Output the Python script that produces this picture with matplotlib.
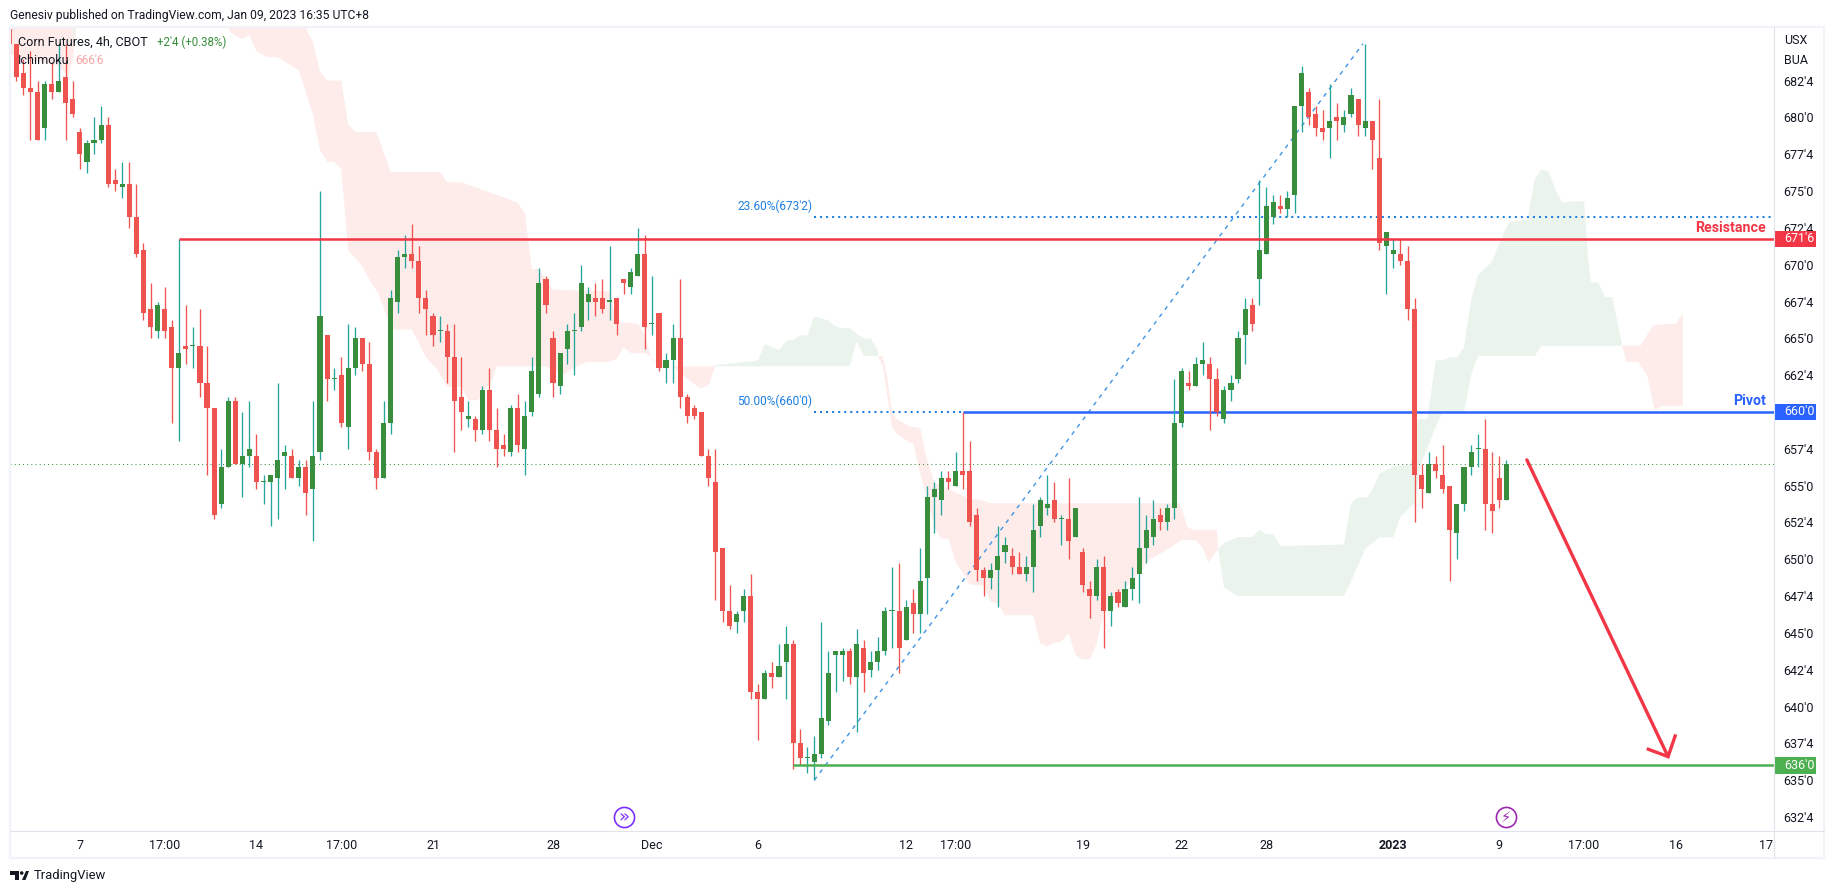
import matplotlib
matplotlib.use('Agg')
import matplotlib.pyplot as plt
import matplotlib.patches as patches
from matplotlib.lines import Line2D
from matplotlib.transforms import blended_transform_factory

W, H = 1834, 893
plt.rcParams['font.family'] = ['Roboto', 'DejaVu Sans']

# 4h bars, index 0 is the one cut by the left edge
opens = [686, 685, 683, 682, 681.75, 679.25, 682.25, 681.75, 682.75, 681.25,
         679, 677, 678.25, 678.5, 679.5, 675.75, 675.25, 675.5, 673.25, 671,
         667, 665.5, 667, 665.75, 663, 664.5, 664.5, 664.5, 662, 660.25,
         653.75, 656.25, 660.75, 656.5, 657, 657, 655.25, 655.25, 655.5, 657,
         657, 655.5, 656.25, 654.75, 657.25, 665.25, 662.25, 662.5, 659, 663,
         665, 663.25, 657.25, 655.5, 659.25, 667.5, 670.5, 670.75, 670.25, 667.75,
         666.5, 665.5, 665.5, 663.75, 661, 659.5, 659.5, 658.75, 661.5, 658.75,
         657.75, 657.25, 660.25, 657.5, 660, 661.25, 669, 665, 661.75, 664.25,
         665.5, 665.75, 667.5, 667.75, 667.75, 667.5, 667.75, 669, 668.5, 669.25,
         670.75, 666, 666.75, 663, 663.5, 665, 661, 660.25, 660, 657,
         655.25, 650.75, 646.5, 645.75, 646.5, 647.5, 641, 640.5, 642.25, 642,
         643, 644.25, 637.5, 636.5, 636.25, 636.75, 639, 643.5, 643.5, 643.75,
         642, 644, 642.5, 643, 643.75, 646.5, 646.5, 644.5, 647, 646.25,
         648.75, 654.25, 654, 655.5, 655, 656, 656, 653, 649.25, 648.75,
         649.25, 650.5, 650.25, 649.5, 649, 649.5, 652.25, 653.5, 654, 652.75,
         652.75, 651.5, 650.5, 648, 647.5, 649.5, 646.5, 647.75, 646.75, 648,
         649, 650.75, 651.5, 653, 652.5, 653.5, 659.25, 662, 661.75, 663.25,
         663.25, 662.25, 659.5, 661.5, 662.25, 665.25, 667.25, 669, 670.75, 673.25,
         674, 673.75, 674.75, 680.75, 681.75, 680.25, 679.25, 679.25, 680, 679.5,
         680.25, 681.25, 679.25, 679.75, 677.25, 671.25, 670.75, 670.75, 670.25, 667,
         655.75, 654.5, 656.5, 655.75, 655, 651.75, 653.75, 656.25, 657.5, 657.5,
         653.75, 655.5, 654]
highs = [686, 685, 684, 684.5, 682.5, 682.5, 683.75, 685, 685, 682.5,
         679.25, 678.5, 680, 680.75, 680, 676.5, 677, 677, 675.5, 671.5,
         668.75, 667.5, 668.5, 666.25, 671.75, 667.25, 665.75, 667, 664.5, 660.25,
         657.5, 661, 661, 660, 660.75, 658.5, 655.75, 655.75, 662, 657.75,
         657.5, 656.75, 656.75, 660.75, 675, 665.25, 663, 663.75, 666, 665.75,
         665, 664.75, 657.5, 660.75, 668.25, 671, 672, 672.75, 671.25, 668.25,
         666.75, 666.5, 666, 666, 663.75, 660.75, 659.75, 661.75, 663, 660.25,
         658.5, 660.5, 661.25, 660.75, 663.75, 669.75, 669.25, 665.5, 664, 666,
         666.75, 670, 668.5, 668.75, 669, 671.25, 667.75, 669, 669.75, 672.5,
         672, 669.25, 666.75, 664, 666, 669, 661.25, 660.5, 660, 657.5,
         657.5, 650.75, 648.25, 646.5, 648, 649, 641.5, 642.5, 643, 644.25,
         645.5, 644.5, 638.5, 637.25, 638, 645.75, 643.75, 643.75, 644, 644,
         645.25, 644.5, 643.75, 644.75, 646.75, 649.5, 649.75, 647.25, 648, 650.75,
         655, 655.25, 656, 656, 657.25, 660, 658, 653.5, 649.5, 649.75,
         652.25, 651.5, 650.75, 650.5, 650.25, 653.75, 654.25, 655.75, 655.25, 653,
         655.5, 653.5, 650.75, 648.5, 650, 650.25, 647.75, 648, 648.5, 649.5,
         654.25, 653, 654, 653.5, 653.75, 662.25, 663, 662.75, 663.75, 664.75,
         663.75, 663, 661.75, 662.5, 665.5, 667.75, 667.75, 675.75, 675.25, 674.75,
         674.75, 675, 680.75, 683.5, 682, 680.75, 680.5, 682.25, 681, 680.5,
         682, 681.25, 685, 679.75, 681.25, 672.25, 671.75, 671.75, 671.25, 667.75,
         656.5, 657.25, 657, 657.75, 655, 653.75, 656.25, 657.75, 658.5, 659.5,
         657.25, 657, 656.75]
lows = [685, 682.5, 681.5, 678.5, 678.5, 678.5, 681.25, 681.75, 678.5, 680,
        676.5, 676.25, 677.5, 678.25, 675.25, 675, 674.5, 672.5, 670.5, 666.25,
        665, 665, 665, 659.25, 658, 663.25, 663, 661, 655.75, 652.75,
        653.5, 656.25, 656.5, 654.25, 656.25, 654.75, 653.75, 652.25, 652.75, 654.75,
        655.5, 655, 653, 651.25, 656.75, 660.75, 661.5, 659, 657.5, 662.5,
        662.75, 656.75, 654.75, 655.5, 658.5, 666.75, 669.75, 669.75, 666.75, 665.25,
        664.5, 664.75, 662, 657.25, 658.75, 659, 658, 658.5, 658, 656.25,
        657, 657, 657.25, 655.75, 659.75, 661, 666.75, 661, 661.25, 663.25,
        662.5, 665.5, 666.25, 666.5, 666.75, 666.25, 665.25, 668, 668, 669.25,
        664.25, 665.25, 662.75, 662, 662, 660.25, 659.25, 659.5, 657, 655,
        647.25, 645.75, 645.25, 645, 645.75, 640.5, 637.75, 640.5, 641.25, 642,
        640.5, 635.75, 636, 635.5, 635, 636.5, 638.75, 641, 641.75, 641.5,
        638.25, 641, 642, 642.5, 643.5, 644, 642.25, 644.5, 645, 645,
        646.25, 651.75, 653, 654.75, 655, 654.75, 652.25, 648.5, 647.5, 648,
        646.75, 649.75, 649, 649, 648.5, 647.75, 651.5, 653, 652.5, 651,
        650, 651.5, 647.75, 646, 647.25, 644, 645.5, 646.75, 646.75, 647.25,
        647, 649.75, 651, 652, 652, 652.75, 659, 661.5, 661.75, 662.5,
        658.75, 659.75, 659.25, 660.75, 662, 663.25, 665.5, 667.25, 670.75, 672.75,
        673.5, 673.25, 673.5, 679, 679.5, 678.75, 678.5, 677.25, 678.5, 679,
        680, 678.75, 678.75, 676.5, 671, 668, 669.75, 670, 666.25, 652.5,
        653.5, 654.5, 655.5, 654.5, 648.5, 650, 653.25, 655.75, 656.25, 652,
        651.75, 653.5, 654]
closes = [685, 682.75, 682, 681.75, 678.5, 682.25, 681.75, 682.5, 681, 680.25,
          677.5, 678.25, 678.5, 679.5, 675.5, 675.5, 675.5, 673.25, 670.75, 666.75,
          665.75, 667.25, 665.5, 663, 664, 664.25, 664.5, 662, 660.25, 653,
          656.25, 660.75, 656.5, 657, 657.5, 655.25, 655.25, 655.75, 656.75, 657.25,
          655.5, 656.25, 654.5, 657, 666.5, 662.25, 662.25, 659.25, 663, 665,
          663.25, 657.25, 655.5, 659.25, 667.75, 670.5, 670.75, 670.25, 667.75, 667,
          665.25, 665.5, 663.75, 660.75, 660, 659.75, 658.75, 661.5, 658.75, 657.5,
          657.5, 660.25, 657.75, 659.75, 662.75, 668.75, 667.25, 662, 664, 665.5,
          665.5, 668.75, 668, 667.5, 667, 667.5, 666, 668.75, 669.5, 670.75,
          665.75, 666, 663, 663.5, 665, 661, 659.75, 659.75, 657, 655.5,
          650.5, 646.5, 645.5, 646.25, 647.5, 641, 640.5, 642.25, 642, 642.75,
          644.25, 637.5, 636.5, 636.5, 636.75, 639.25, 642.25, 643.75, 643.75, 642,
          644.25, 642.25, 643, 643.75, 646.5, 646.5, 644, 646.75, 646.25, 648.5,
          654.25, 654.75, 655.5, 655.25, 656, 655.75, 652.5, 649.25, 648.75, 649.25,
          650.25, 651, 649.5, 649, 649.5, 652, 654, 653.75, 652.75, 652.75,
          651.25, 653.5, 648.25, 647.5, 649.5, 646.5, 647.5, 647, 648, 648.75,
          650.75, 652, 652.75, 652.5, 653.5, 659.25, 662.75, 661.75, 663.25, 663.5,
          662.25, 660, 661.5, 662, 665, 667, 666, 671, 674, 674.25,
          673.75, 674.5, 680.75, 683, 680, 679.25, 679, 679.75, 679.75, 680,
          681.5, 679.5, 679.75, 678.5, 671.5, 672.25, 671, 670.25, 667, 655.75,
          654.75, 656.5, 656, 654.75, 652, 653.75, 656.25, 657.25, 657.5, 653.75,
          653.25, 654, 656.5]

# ichimoku cloud edges, bar index and price
red_left_up_x = [0, 9.5]
red_left_up_p = [686.2, 686.2]
red_left_lo_x = [0, 3, 7, 8.3, 9, 9.5]
red_left_lo_p = [684.3, 683.9, 683.5, 682.8, 683.9, 686.2]
green_tip_up_x = [9, 9.5]
green_tip_up_p = [686.2, 686.2]
green_tip_lo_x = [9, 9.5]
green_tip_lo_p = [685, 686.2]

red_main_up_x = [42, 43, 44, 45, 47, 48, 49, 52, 54, 61, 62, 64, 71, 72, 73, 74, 75, 77, 85, 86, 89, 90, 91, 94, 100]
red_main_up_p = [686.1, 685.1, 683.1, 682.5, 682.5, 679.5, 679, 679, 676.3, 676.3, 675.6, 675.6, 674.4, 674.2, 673.5,
                 669.7, 669.7, 668.3, 668.2, 666.1, 666, 665.2, 663.5, 663.1, 663.1]
red_main_lo_x = [31, 31.3, 33, 34, 35, 36.5, 38, 40, 41, 43, 44, 45, 46, 47, 48, 48.7, 50, 51, 52.2, 53.6, 54.3, 57, 58,
                 59, 60.6, 62, 64, 65, 66.4, 68.4, 69, 76, 78.4, 80, 81.8, 84.8, 86, 87, 88, 90, 90.7, 92, 94, 95.4, 97.8, 99, 100]
red_main_lo_p = [686.2, 685.8, 685.3, 685.6, 684.5, 684.1, 684.1, 683.5, 683.2, 680.2, 677.8, 677, 677, 676.5, 671, 670.6,
                 669.9, 669, 668.1, 666.3, 665.6, 665.6, 664.7, 663.7, 662.9, 661.7, 661.7, 660.8, 660.8, 662.2, 663.1,
                 663.1, 662.5, 663, 663.4, 663.4, 663.6, 664.4, 664, 664, 663.8, 663.1, 663.1, 662.5, 661.6, 661.8, 663.1]

green_a_up_x = [100, 102.5, 106, 107, 108, 109, 110, 111, 112, 113, 114, 116, 116.7, 117.6, 119, 120, 121, 122, 123, 123]
green_a_up_p = [663.2, 663.3, 663.5, 664.6, 664.4, 664.2, 664.8, 664.9, 665.2, 665.2, 666.5, 666.2, 665.9, 665.7, 665.7,
                665.3, 665, 665, 664.2, 663.8]
green_a_lo_x = [100, 119, 120, 121, 123]
green_a_lo_p = [663.1, 663.1, 664.8, 663.8, 663.8]

red_b_up_x = [123, 123.7, 124.3, 125, 125.7, 127.6, 129, 129.7, 131, 136, 137.8, 139, 165.8, 166.8, 167.6, 171, 171.2]
red_b_up_p = [663.8, 663.8, 662.4, 660, 659.5, 659, 658.9, 657.2, 655.2, 654.1, 654, 653.8, 653.8, 652.2, 652, 652, 650.7]
red_b_lo_x = [123, 123.7, 125, 125.7, 127.6, 128, 128.7, 129.7, 131.2, 132, 133, 134, 135, 136, 138, 139, 140, 141, 145,
              146, 147, 148, 149, 150, 151, 152, 153, 154, 155, 159, 161.5, 163.4, 166, 168, 169, 169.8, 171.2]
red_b_lo_p = [663.8, 663.1, 659, 658.5, 657.9, 657.9, 656.4, 654.5, 652, 651.4, 651.4, 649.8, 649.1, 648.3, 648.2, 647.1,
              647, 646.2, 646.2, 644.3, 644.1, 644.3, 644.4, 645, 643.5, 643.2, 643.2, 644.3, 646.4, 648.6, 650, 650.5,
              651.3, 651.3, 650.8, 649.8, 650.7]

green_c_up_x = [171.2, 172, 174, 176, 177, 178, 179, 180, 189, 190, 191, 192.3, 193, 194, 196, 198.4, 199.5, 200.8, 202,
                203, 204, 205, 206, 207, 208, 210, 211, 212.4, 215, 216, 217, 218, 219, 220, 221.3, 223, 223.4, 223.5,
                224, 225, 226, 227, 228.4]
green_c_up_p = [650.7, 651.1, 651.5, 651.5, 652, 651.7, 651.7, 650.9, 651, 653.8, 654.2, 654.2, 654.7, 655.8, 656.3, 656.4,
                659.5, 659.5, 663.5, 663.5, 663.7, 663.7, 664.4, 667.6, 669.3, 670.2, 671.5, 672.9, 673.1, 675.8, 676.5,
                676.3, 675, 674.2, 674.3, 674.3, 671.7, 670.8, 668.8, 668.8, 667.8, 667.8, 664.5]
green_c_lo_x = [171.2, 172, 174, 189, 190, 192, 194, 196, 197, 199, 200, 202, 203, 206, 207, 208, 216, 217, 228, 228.4]
green_c_lo_p = [650.7, 648.1, 647.5, 647.5, 648.5, 650.7, 651.5, 651.5, 652.9, 653.8, 656.6, 659, 660, 660, 662.5, 663.8,
                663.8, 664.5, 664.5, 664.5]

red_d_up_x = [228.4, 231, 232.8, 236, 237]
red_d_up_p = [664.5, 664.5, 665.9, 666, 666.7]
red_d_lo_x = [228.4, 229, 230.7, 232, 233, 234, 237]
red_d_lo_p = [664.5, 663.4, 663.4, 662.4, 660.1, 660.4, 660.4]

clouds_red = [(red_left_up_x, red_left_up_p, red_left_lo_x, red_left_lo_p),
              (red_main_up_x, red_main_up_p, red_main_lo_x, red_main_lo_p),
              (red_b_up_x, red_b_up_p, red_b_lo_x, red_b_lo_p),
              (red_d_up_x, red_d_up_p, red_d_lo_x, red_d_lo_p)]
clouds_green = [(green_tip_up_x, green_tip_up_p, green_tip_lo_x, green_tip_lo_p),
                (green_a_up_x, green_a_up_p, green_a_lo_x, green_a_lo_p),
                (green_c_up_x, green_c_up_p, green_c_lo_x, green_c_lo_p)]

# axes labels
price_ticks = [632.5, 635, 637.5, 640, 642.5, 645, 647.5, 650, 652.5, 655, 657.5, 660, 662.5, 665, 667.5, 670, 672.5,
               675, 677.5, 680, 682.5]
price_labels = ["632'4", "635'0", "637'4", "640'0", "642'4", "645'0", "647'4", "650'0", "652'4", "655'0", "657'4",
                "660'0", "662'4", "665'0", "667'4", "670'0", "672'4", "675'0", "677'4", "680'0", "682'4"]
time_ticks = [10, 22, 35, 47, 60, 77, 91, 106, 127, 134, 152, 166, 178, 196, 211, 223, 236, 249]
time_labels = ['7', '17:00', '14', '17:00', '21', '28', 'Dec', '6', '12', '17:00', '19', '22', '28', '2023', '9',
               '17:00', '16', '17:']

# drawings
resistance = 671.75
pivot = 660
support = 636
last_price = 656.5
fib_236 = 673.25
fib_500 = 660
trend_x = [114, 191.7]
trend_p = [635, 685]
arrow_x = [214.9, 234.9]
arrow_p = [656.75, 636.6]
wing_x = [232.1, 234.9, 235.9]
wing_p = [637.1, 636.6, 638]

UP = '#388e3c'
UP_WICK = '#26a69a'
DOWN = '#ef5350'
RED = '#f23645'
BLUE = '#2962ff'
GREEN = '#4caf50'
FIB = '#1e7fe0'
INK = '#131722'
FRAME = '#f0f3fa'
SEP = '#e0e3eb'
CLOUD_RED = '#fdecea'
CLOUD_GREEN = '#ebf4ec'


def fx(x):
    return x / W


def fy(y):
    return 1 - y / H


fig = plt.figure(figsize=(W / 100, H / 100), dpi=100, facecolor='white')
ax = fig.add_axes([fx(10), fy(831), fx(1764), 804 / H])
ax.set_xlim(0.1, 249.9)
ax.set_ylim(631.55, 686.14)
for s in ax.spines.values():
    s.set_visible(False)

for xu, pu, xl, pl in clouds_red:
    ax.fill(list(xu) + list(xl)[::-1], list(pu) + list(pl)[::-1], color=CLOUD_RED, lw=0, zorder=1)
for xu, pu, xl, pl in clouds_green:
    ax.fill(list(xu) + list(xl)[::-1], list(pu) + list(pl)[::-1], color=CLOUD_GREEN, lw=0, zorder=1)

ax.axhline(last_price, color=UP, lw=0.75, ls=(0, (1, 3)), zorder=1.5)
ax.plot([114, 249.9], [fib_236, fib_236], color=FIB, lw=1.45, ls=(0, (1, 2)), zorder=1.6)
ax.plot([114, 135], [fib_500, fib_500], color=FIB, lw=1.45, ls=(0, (1, 2)), zorder=1.6)
ax.plot(trend_x, trend_p, color='#3d94e6', lw=1.0, ls=(0, (3, 3.6)), zorder=1.6)
ax.plot([135, 249.9], [pivot, pivot], color=BLUE, lw=1.8, zorder=1.7, solid_capstyle='butt')

for i in range(len(opens)):
    o, h, l, c = opens[i], highs[i], lows[i], closes[i]
    up = c >= o
    ax.vlines(i, l, h, color=UP_WICK if up else DOWN, lw=0.95, zorder=2)
    ax.bar(i, max(abs(c - o), 0.07), bottom=min(o, c), width=0.72, color=UP if up else DOWN, lw=0, zorder=3)

ax.plot([24, 249.9], [resistance, resistance], color=RED, lw=1.8, zorder=4, solid_capstyle='butt')
ax.plot([111, 249.9], [support, support], color=GREEN, lw=1.8, zorder=4, solid_capstyle='butt')
ax.plot(arrow_x, arrow_p, color=RED, lw=2.4, zorder=4, solid_capstyle='round')
ax.plot(wing_x, wing_p, color=RED, lw=2.4, zorder=4, solid_joinstyle='miter')

# event icons on the time scale
ax.plot(87, 632.5, 'o', ms=14.5, mfc='white', mec='#7c2fff', mew=1.2, zorder=5)
ax.text(87, 632.5, '\u00bb', color='#7c2fff', fontsize=13, ha='center', va='center', zorder=6,
        family='DejaVu Sans')
ax.plot(212, 632.5, 'o', ms=14.5, mfc='white', mec='#9c27b0', mew=1.2, zorder=5)
ax.text(212, 632.5, '\u26a1', color='#9c27b0', fontsize=10.5, ha='center', va='center', zorder=6,
        family='DejaVu Sans')

ax.yaxis.tick_right()
ax.set_yticks(price_ticks, price_labels)
ax.set_xticks(time_ticks, time_labels)
ax.tick_params(axis='y', length=0, pad=7, labelsize=9, labelcolor=INK)
ax.tick_params(axis='x', length=0, pad=6, labelsize=9, labelcolor=INK)
for t in ax.get_xticklabels():
    if t.get_text() == '2023':
        t.set_fontweight('bold')

# price tags on the scale
tr = blended_transform_factory(ax.transAxes, ax.transData)
for value, col, label in [(resistance, RED, "671'6"), (pivot, BLUE, "660'0"), (support, GREEN, "636'0")]:
    ax.add_patch(patches.Rectangle((1, value - 0.55), 42 / 1764, 1.1, transform=tr, facecolor=col, lw=0,
                                   clip_on=False, zorder=7))
    ax.text(1 + 10 / 1764, value, label, transform=tr, color='white', fontsize=9, va='center', ha='left', zorder=8)

ax.text(1 - 8 / 1764, resistance + 0.72, 'Resistance', transform=tr, color=RED, fontsize=10.2, fontweight='bold',
        ha='right', va='center', zorder=8)
ax.text(1 - 8 / 1764, pivot + 0.72, 'Pivot', transform=tr, color=BLUE, fontsize=10.2, fontweight='bold',
        ha='right', va='center', zorder=8)
ax.text(113.7, fib_236 + 0.72, "23.60%(673'2)", color=FIB, fontsize=8.6, ha='right', va='center', zorder=8)
ax.text(113.7, fib_500 + 0.72, "50.00%(660'0)", color=FIB, fontsize=8.6, ha='right', va='center', zorder=8)

# frame and separators
fig.add_artist(patches.Rectangle((fx(10), fy(858)), fx(1814), 831 / H, transform=fig.transFigure, fill=False,
                                 edgecolor=FRAME, lw=1.6))
fig.add_artist(Line2D([fx(10), fx(1824)], [fy(831), fy(831)], color=SEP, lw=0.8))
fig.add_artist(Line2D([fx(1774), fx(1774)], [fy(27), fy(858)], color=SEP, lw=0.8))

fig.text(fx(10), fy(15), 'Genesiv published on TradingView.com, Jan 09, 2023 16:35 UTC+8', color=INK, fontsize=8.78,
         va='center')
fig.text(fx(18), fy(42), 'Corn Futures, 4h, CBOT', color=INK, fontsize=9.05, va='center', zorder=9)
fig.text(fx(157), fy(42), "+2'4 (+0.38%)", color=UP, fontsize=8.3, va='center', zorder=9)
fig.text(fx(18), fy(60), 'Ichimoku', color=INK, fontsize=9, va='center', zorder=9)
fig.text(fx(75), fy(60), "666'6", color='#f7a5a5', fontsize=8.6, va='center', zorder=9)
fig.text(fx(1784), fy(41), 'USX', color=INK, fontsize=9, va='center')
fig.text(fx(1784), fy(60), 'BUA', color=INK, fontsize=9, va='center')

# TradingView logo
fig.add_artist(patches.Rectangle((fx(10.3), fy(874.5)), fx(9), 3.5 / H, transform=fig.transFigure, facecolor=INK, lw=0))
fig.add_artist(patches.Rectangle((fx(14.5), fy(880)), fx(4.5), 9 / H, transform=fig.transFigure, facecolor=INK, lw=0))
fig.add_artist(patches.Ellipse((fx(21.7), fy(873)), fx(3.6), 3.6 / H, transform=fig.transFigure, facecolor=INK, lw=0))
fig.add_artist(patches.Polygon([(fx(22), fy(880)), (fx(26), fy(871)), (fx(29), fy(871)), (fx(25.5), fy(880))],
                               closed=True, transform=fig.transFigure, facecolor=INK, lw=0))
fig.text(fx(33.5), fy(875.5), 'TradingView', color=INK, fontsize=9.4, va='center')

fig.savefig('out.png', dpi=100)
